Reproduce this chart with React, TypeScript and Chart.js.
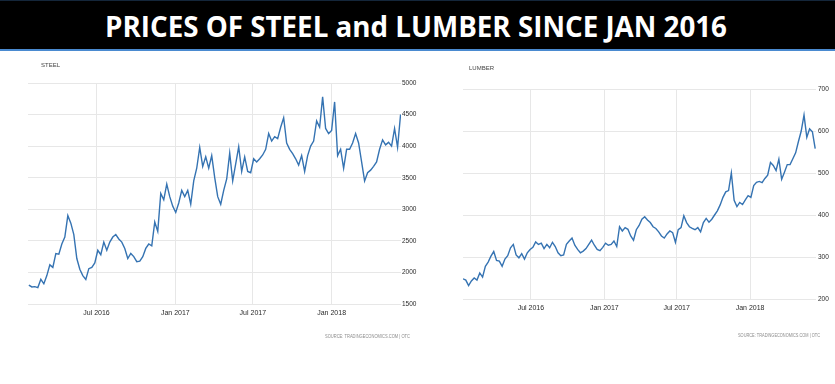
import React, { useEffect, useLayoutEffect, useRef } from "react";
import { Chart, registerables } from "chart.js";

Chart.register(...registerables);

const TITLE = "PRICES OF STEEL and LUMBER SINCE JAN 2016";
const SOURCE = "SOURCE: TRADINGECONOMICS.COM | OTC";

const tickDates = ["2016-07-01", "2017-01-01", "2017-07-01", "2018-01-01"];
const tickLabels = ["Jul 2016", "Jan 2017", "Jul 2017", "Jan 2018"];

// Steel: weekly observations starting from steelStart
const steelName = "STEEL";
const steelStart = "2016-01-25";
const steelValues = [
  1800, 1770, 1775, 1760, 1890, 1820, 1950, 2120, 2080, 2300,
  2290, 2450, 2560, 2900, 2780, 2600, 2220, 2050, 1950, 1890,
  2060, 2080, 2150, 2350, 2280, 2480, 2350, 2480, 2560, 2600,
  2530, 2480, 2380, 2220, 2300, 2250, 2170, 2180, 2250, 2380,
  2450, 2420, 2800, 2650, 3250, 3150, 3400, 3200, 3050, 2950,
  3100, 3300, 3200, 3300, 3080, 3450, 3650, 3980, 3680, 3830,
  3650, 3850, 3500, 3200, 3080, 3300, 3480, 3890, 3450, 3720,
  3990, 3600, 3830, 3600, 3580, 3800, 3750, 3800, 3860, 3950,
  4200, 4080, 4150, 4120, 4300, 4450, 4050, 3950, 3880, 3800,
  3700, 3850, 3600, 3850, 4000, 4080, 4400, 4300, 4780, 4280,
  4200, 4250, 4700, 3850, 3950, 3650, 3950, 3950, 4050, 4200,
  4050, 3750, 3450, 3580, 3620, 3680, 3750, 3950, 4100, 4020,
  4060, 4000, 4280, 3980, 4500,
];
const steelYMin = 1500;
const steelYMax = 5000;
const steelYStep = 500;

// Lumber: weekly observations starting from lumberStart
const lumberName = "LUMBER";
const lumberStart = "2016-01-13";
const lumberValues = [
  248, 245, 232, 243, 250, 245, 262, 252, 278, 288,
  302, 313, 292, 290, 278, 295, 303, 322, 330, 305,
  298, 308, 295, 310, 318, 323, 336, 330, 333, 320,
  330, 322, 335, 325, 310, 303, 305, 330, 338, 345,
  328, 318, 310, 314, 320, 330, 340, 328, 318, 315,
  323, 333, 328, 330, 338, 325, 372, 362, 370, 366,
  350, 340, 365, 375, 390, 396, 388, 382, 372, 368,
  360, 350, 345, 355, 362, 358, 335, 365, 370, 398,
  382, 372, 368, 365, 370, 360, 382, 392, 383, 390,
  400, 410, 424, 442, 455, 458, 500, 435, 420, 430,
  425, 436, 446, 442, 470, 478, 480, 477, 487, 495,
  525, 518, 506, 533, 485, 502, 520, 520, 534, 548,
  575, 600, 638, 585, 605, 598, 558,
];
const lumberYMin = 200;
const lumberYMax = 700;
const lumberYStep = 100;

const EPOCH = Date.UTC(2016, 0, 1);
const dayOf = (s: string) => (Date.parse(s + "T00:00:00Z") - EPOCH) / 86400000;

const FONT = '"Liberation Sans", Arial, sans-serif';
const LINE_COLOR = "#3573b2";
const GRID_COLOR = "#e7e7e7";

type Cfg = {
  name: string;
  start: string;
  values: number[];
  yMin: number;
  yMax: number;
  yStep: number;
  xMin: number;
  xMax: number;
  width: number;
  height: number;
  padLeft: number;
  padTop: number;
  yAxisWidth: number;
  xAxisHeight: number;
  yPad: number;
  xPad: number;
  nameX: number;
  nameY: number;
  srcX: number;
  srcY: number;
  srcW: number;
};

function PriceChart({ cfg, left, top }: { cfg: Cfg; left: number; top: number }) {
  const ref = useRef<HTMLCanvasElement | null>(null);
  useEffect(() => {
    if (!ref.current) return;
    const s0 = dayOf(cfg.start);
    const data = cfg.values.map((v, i) => ({ x: s0 + 7 * i, y: v }));
    const ticks = tickDates.map(dayOf);
    const labelPlugin = {
      id: "extraLabels",
      afterDraw(chart: any) {
        const ctx = chart.ctx as CanvasRenderingContext2D;
        ctx.save();
        ctx.textBaseline = "middle";
        ctx.textAlign = "left";
        ctx.fillStyle = "#444";
        ctx.font = "6px " + FONT;
        ctx.fillText(cfg.name, cfg.nameX, cfg.nameY);
        ctx.fillStyle = "#8c8c8c";
        ctx.font = "5px " + FONT;
        ctx.fillText(SOURCE, cfg.srcX, cfg.srcY, cfg.srcW);
        ctx.restore();
      },
    };
    const chart = new Chart(ref.current, {
      type: "line",
      data: {
        datasets: [
          {
            data,
            borderColor: LINE_COLOR,
            borderWidth: 1.4,
            pointRadius: 0,
            tension: 0,
            fill: false,
          },
        ],
      },
      options: {
        animation: false,
        responsive: false,
        devicePixelRatio: 1,
        layout: { padding: { left: cfg.padLeft, top: cfg.padTop, right: 0, bottom: 0 } },
        plugins: { legend: { display: false }, tooltip: { enabled: false }, title: { display: false } },
        scales: {
          x: {
            type: "linear",
            min: cfg.xMin,
            max: cfg.xMax,
            afterBuildTicks: (scale: any) => {
              scale.ticks = ticks.map((v) => ({ value: v }));
            },
            afterFit: (scale: any) => {
              scale.height = cfg.xAxisHeight;
            },
            grid: { color: GRID_COLOR, drawTicks: false, lineWidth: 1 },
            border: { display: false },
            ticks: {
              autoSkip: false,
              maxRotation: 0,
              padding: cfg.xPad,
              color: "#2a2a2a",
              font: { family: FONT, size: 7 },
              callback: (v: any) => {
                const i = ticks.indexOf(Number(v));
                return i >= 0 ? tickLabels[i] : "";
              },
            },
          },
          y: {
            type: "linear",
            position: "right",
            min: cfg.yMin,
            max: cfg.yMax,
            afterFit: (scale: any) => {
              scale.width = cfg.yAxisWidth;
            },
            grid: { color: GRID_COLOR, drawTicks: false, lineWidth: 1 },
            border: { display: false },
            ticks: {
              stepSize: cfg.yStep,
              padding: cfg.yPad,
              color: "#2a2a2a",
              font: { family: FONT, size: 6.5 },
              callback: (v: any) => String(v),
            },
          },
        },
      },
      plugins: [labelPlugin],
    } as any);
    return () => chart.destroy();
  }, [cfg]);
  return (
    <canvas
      ref={ref}
      width={cfg.width}
      height={cfg.height}
      style={{ position: "absolute", left, top, width: cfg.width, height: cfg.height }}
    />
  );
}

const steelCfg: Cfg = {
  name: steelName,
  start: steelStart,
  values: steelValues,
  yMin: steelYMin,
  yMax: steelYMax,
  yStep: steelYStep,
  xMin: dayOf("2016-01-23"),
  xMax: dayOf("2018-06-12"),
  width: 424,
  height: 331,
  padLeft: 28,
  padTop: 30,
  yAxisWidth: 23,
  xAxisHeight: 80,
  yPad: 1,
  xPad: 5,
  nameX: 41,
  nameY: 12,
  srcX: 325,
  srcY: 284,
  srcW: 85,
};

const lumberCfg: Cfg = {
  name: lumberName,
  start: lumberStart,
  values: lumberValues,
  yMin: lumberYMin,
  yMax: lumberYMax,
  yStep: lumberYStep,
  xMin: dayOf("2016-01-13"),
  xMax: dayOf("2018-06-15"),
  width: 417,
  height: 331,
  padLeft: 45,
  padTop: 36,
  yAxisWidth: 19,
  xAxisHeight: 85,
  yPad: 2,
  xPad: 5,
  nameX: 51,
  nameY: 15,
  srcX: 320,
  srcY: 283,
  srcW: 82,
};

function Title() {
  const ref = useRef<HTMLSpanElement | null>(null);
  useLayoutEffect(() => {
    const el = ref.current;
    if (!el) return;
    el.style.transform = "none";
    const w = el.getBoundingClientRect().width;
    if (w > 0) el.style.transform = `scaleX(${622 / w})`;
  }, []);
  return (
    <div
      style={{
        position: "absolute",
        left: 0,
        top: 0,
        width: 835,
        height: 51,
        background: "#000",
        borderTop: "1px solid #14263a",
        borderBottom: "2px solid #4a8ad0",
        boxSizing: "border-box",
      }}
    >
      <span
        ref={ref}
        style={{
          position: "absolute",
          left: 105,
          top: 11,
          lineHeight: "28px",
          fontFamily: '"Open Sans", "Noto Sans", sans-serif',
          fontWeight: 700,
          fontSize: 28,
          color: "#fff",
          whiteSpace: "nowrap",
          transformOrigin: "0 0",
          display: "inline-block",
        }}
      >
        {TITLE}
      </span>
    </div>
  );
}

export default function App() {
  return (
    <div
      style={{
        position: "fixed",
        left: 0,
        top: 0,
        width: 835,
        height: 384,
        background: "#fff",
        overflow: "hidden",
      }}
    >
      <Title />
      <PriceChart cfg={lumberCfg} left={418} top={53} />
      <PriceChart cfg={steelCfg} left={0} top={53} />
    </div>
  );
}
